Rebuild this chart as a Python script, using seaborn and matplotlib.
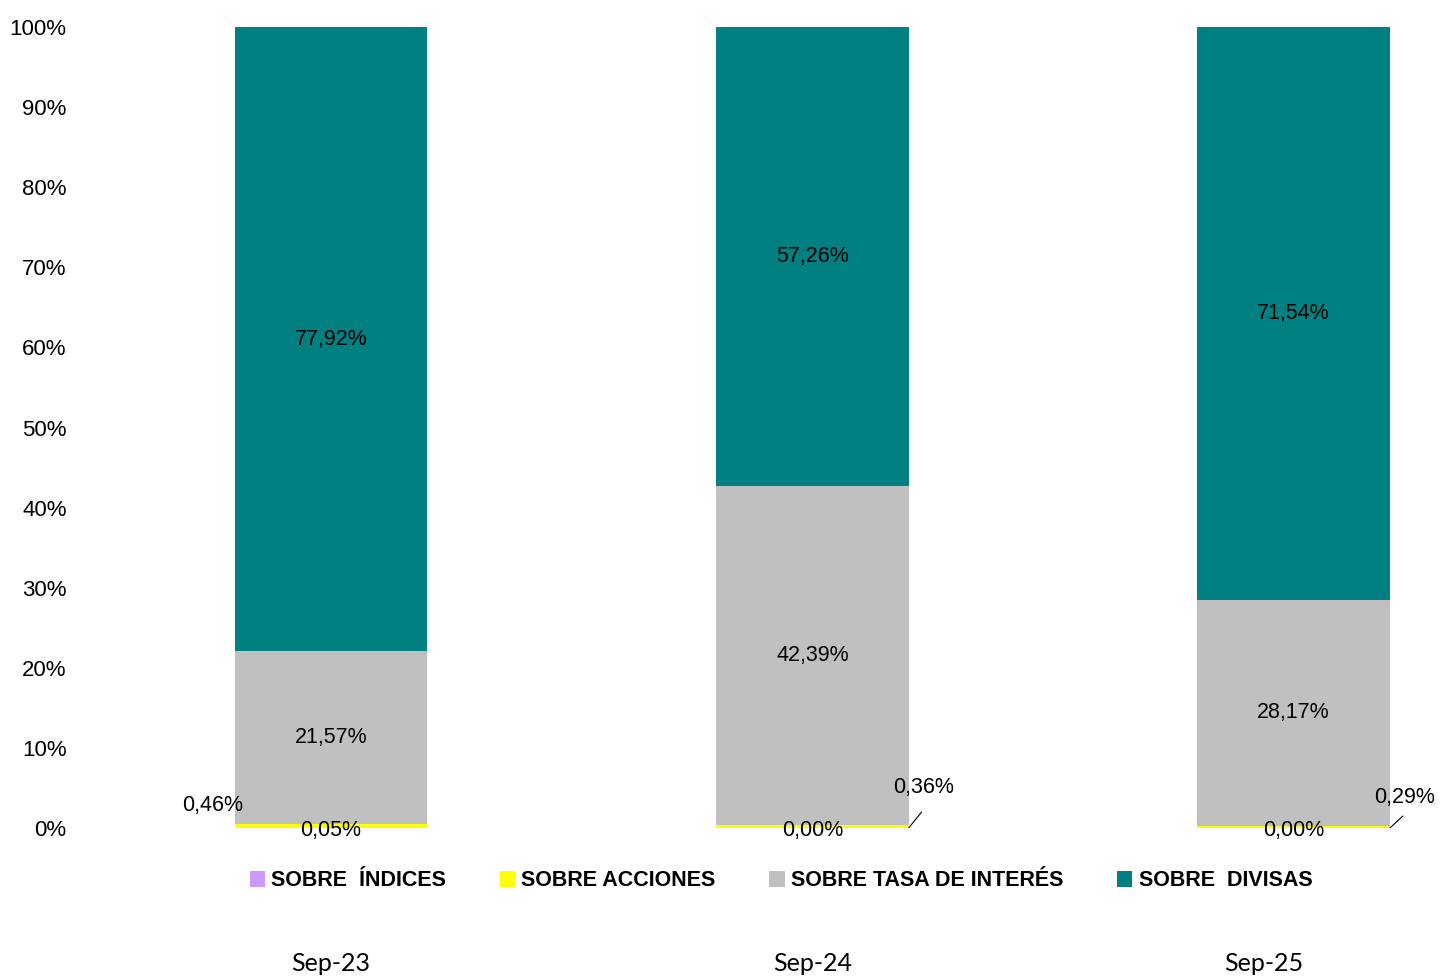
import numpy as np
import pandas as pd
import seaborn as sns
import matplotlib.pyplot as plt
import matplotlib.transforms as mtransforms
from matplotlib.patches import Patch

periods = ["Sep-23", "Sep-24", "Sep-25"]
series = ["SOBRE  ÍNDICES", "SOBRE ACCIONES", "SOBRE TASA DE INTERÉS", "SOBRE  DIVISAS"]
indices = [0.05, 0.00, 0.00]
acciones = [0.46, 0.36, 0.29]
tasa = [21.57, 42.39, 28.17]
divisas = [77.92, 57.26, 71.54]
colors = ["#CC99FF", "#FFFF00", "#C0C0C0", "#008080"]

sns.set_style("white")
plt.rcParams["font.family"] = ["Liberation Sans", "DejaVu Sans"]
plt.rcParams["text.color"] = "black"
plt.rcParams["xtick.color"] = "black"
plt.rcParams["ytick.color"] = "black"

df = pd.DataFrame({"periodo": periods, "ind": indices, "acc": acciones,
                   "tasa": tasa, "div": divisas})

fig = plt.figure(figsize=(14.4, 9.77), dpi=100)
ax = fig.add_axes([75 / 1440, 1 - 828 / 977, 1 - 75 / 1440, (828 - 27) / 977])

bottom = np.zeros(len(periods))
for col, c in zip(["ind", "acc", "tasa", "div"], colors):
    sns.barplot(data=df, x="periodo", y=col, color=c, width=0.4,
                bottom=bottom, ax=ax, saturation=1, linewidth=0)
    bottom = bottom + df[col].values

ax.set_xlim(-0.532, 2.304)
ax.set_ylim(0, 100)
ax.set_yticks(range(0, 101, 10))
ax.set_yticklabels([f"{v}%" for v in range(0, 101, 10)], fontsize=16)
ax.tick_params(axis="y", length=0, pad=6)
ax.tick_params(axis="x", length=0, pad=89)
xlabs = ax.get_xticklabels()
for lab in xlabs:
    lab.set_family(["Lato", "DejaVu Sans"])
    lab.set_fontsize(18)
# the last period label sits a little left of its bar in the original
xlabs[-1].set_transform(xlabs[-1].get_transform() +
                        mtransforms.ScaledTranslation(-0.3, 0, fig.dpi_scale_trans))
ax.set_xlabel("")
ax.set_ylabel("")
sns.despine(ax=ax, left=True, bottom=True)

def fmt(v):
    return f"{v:.2f}%".replace(".", ",")

fs = 15.5
for i in range(len(periods)):
    base = indices[i] + acciones[i]
    ax.text(i, base + tasa[i] + divisas[i] / 2, fmt(divisas[i]), ha="center", va="center", fontsize=fs)
    ax.text(i, base + tasa[i] / 2, fmt(tasa[i]), ha="center", va="center", fontsize=fs)
    ax.text(i, -0.3, fmt(indices[i]), ha="center", va="center", fontsize=fs)

# acciones labels
ax.text(-0.247, 2.75, fmt(acciones[0]), ha="center", va="center", fontsize=fs)
for i, (ly, ty) in zip([1, 2], [(2.0, 5.1), (1.5, 3.75)]):
    ax.plot([i + 0.2, i + 0.227], [0, ly], color="black", lw=0.8)
    ax.text(i + 0.231, ty, fmt(acciones[i]), ha="center", va="center", fontsize=fs)

handles = [Patch(facecolor=c, edgecolor="none") for c in colors]
fig.legend(handles, series, loc="center", ncol=4, frameon=False,
           bbox_to_anchor=(781 / 1440, 1 - 881 / 977),
           prop={"weight": "bold", "size": 15.5},
           handlelength=0.7, handleheight=0.7, handletextpad=0.3, columnspacing=2.5)

fig.savefig("out.png", dpi=100)
